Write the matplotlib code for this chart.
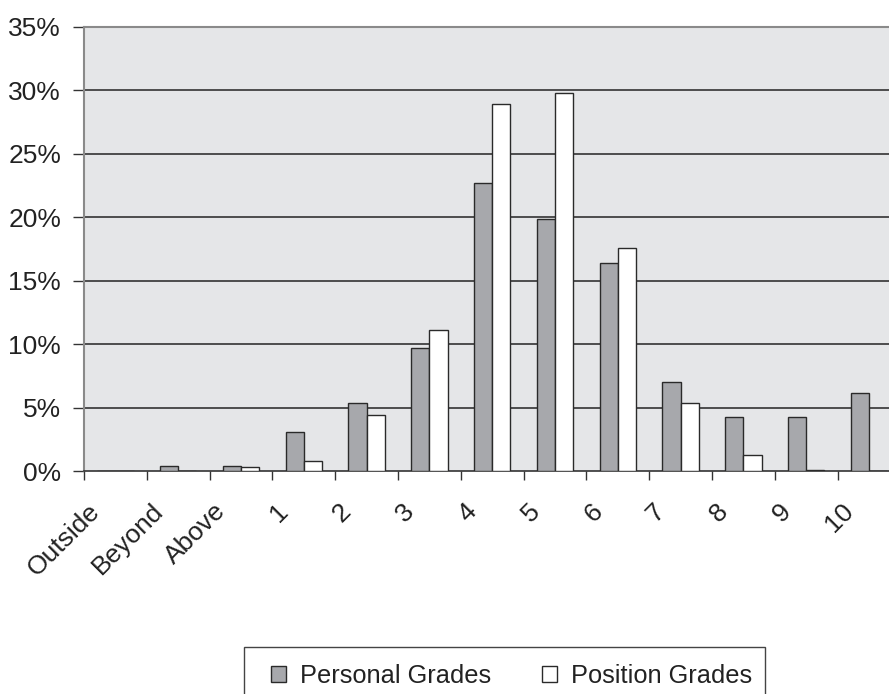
import numpy as np
import matplotlib
matplotlib.use("Agg")
import matplotlib.pyplot as plt
from matplotlib.patches import Rectangle
from matplotlib.transforms import ScaledTranslation

plt.rcParams["font.family"] = ["Liberation Sans", "DejaVu Sans"]

categories = ["Outside", "Beyond", "Above", "1", "2", "3", "4", "5",
              "6", "7", "8", "9", "10"]
personal_grades = [0.0, 0.4, 0.4, 3.1, 5.4, 9.7, 22.7, 19.9, 16.4, 7.0, 4.25, 4.25, 6.2]
position_grades = [0.0, 0.0, 0.3, 0.85, 4.4, 11.1, 28.9, 29.8, 17.6, 5.4, 1.3, 0.13, 0.0]
y_ticks = [0, 5, 10, 15, 20, 25, 30, 35]
series_names = ["Personal Grades", "Position Grades"]

W, H = 889, 694
fig = plt.figure(figsize=(W / 100, H / 100), dpi=100)

# plot area in pixel units (the last category runs past the right edge)
left, top, bottom, right = 84, 26.8, 471.3, 900.4
ax = fig.add_axes([left / W, (H - bottom) / H, (right - left) / W, (bottom - top) / H])

bg = "#e5e6e8"
gray = "#a7a8ac"
edge = "#2a2a2a"
text_color = "#222222"
fs = 19.0
legend_fs = 18.3

ax.set_facecolor(bg)
n = len(categories)
x = np.arange(n) + 0.5
bw = 0.29
ax.bar(x - bw / 2, personal_grades, bw, color=gray, edgecolor=edge, linewidth=1.0,
       label=series_names[0], zorder=3)
ax.bar(x + bw / 2, position_grades, bw, color="white", edgecolor=edge, linewidth=1.0,
       label=series_names[1], zorder=3)

ax.set_xlim(0, n)
ax.set_ylim(0, 35)

# horizontal gridlines
for v in y_ticks[1:-1]:
    ax.axhline(v, color="#333333", linewidth=1.2, zorder=1)

ax.set_yticks(y_ticks)
ax.set_yticklabels([f"{v}%" for v in y_ticks])
ax.tick_params(axis="y", direction="out", length=8, width=1.0, color="#333333",
               pad=8.5, labelsize=fs, labelcolor=text_color)

# category labels at centres, tick marks at category boundaries
ax.set_xticks(x)
ax.set_xticklabels(categories)
ax.set_xticks(np.arange(n + 1), minor=True)
ax.tick_params(axis="x", which="major", length=0, pad=26, labelsize=fs,
               labelcolor=text_color)
ax.tick_params(axis="x", which="minor", direction="out", length=6.5, width=1.0,
               color="#333333")
offset = ScaledTranslation(-19 / 100, 0, fig.dpi_scale_trans)
for lab in ax.get_xticklabels():
    lab.set_rotation(45)
    lab.set_ha("right")
    lab.set_va("center")
    lab.set_rotation_mode("anchor")
    lab.set_transform(lab.get_transform() + offset)

for side in ("top", "left"):
    ax.spines[side].set_color("#8a8a8a")
    ax.spines[side].set_linewidth(1.5)
ax.spines["bottom"].set_color("#333333")
ax.spines["bottom"].set_linewidth(1.2)
ax.spines["right"].set_visible(False)

# legend box, running past the bottom edge
fig.patches.append(Rectangle((244 / W, (H - 712) / H), (765 - 244) / W, (712 - 647) / H,
                             transform=fig.transFigure, facecolor="white",
                             edgecolor="#444444", linewidth=1.0, zorder=0))
leg = fig.legend(loc="center left", bbox_to_anchor=(271 / W, (H - 676) / H),
                 ncol=2, frameon=False, fontsize=legend_fs, handlelength=0.6,
                 handleheight=0.6, handletextpad=0.55, columnspacing=2.0,
                 borderpad=0.0, borderaxespad=0.0)
for t in leg.get_texts():
    t.set_color(text_color)

fig.savefig("out.png", dpi=100)
